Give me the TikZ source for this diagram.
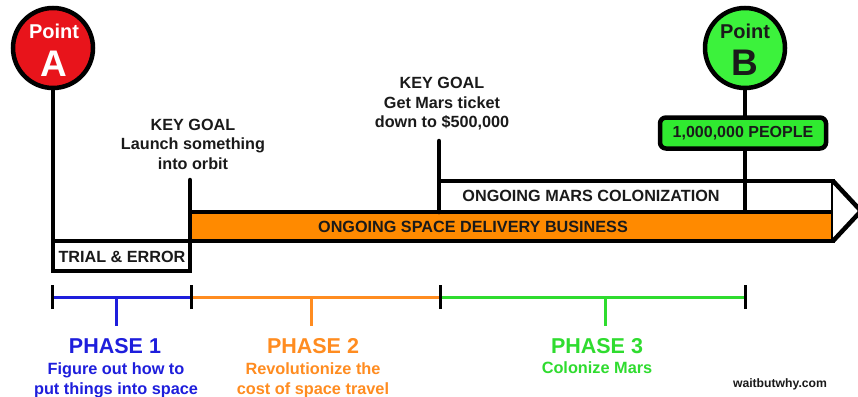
\documentclass[tikz,border=0pt]{standalone}
\usepackage{fontspec}
\setmainfont{Liberation Sans}

\definecolor{markA}{HTML}{E8141B}
\definecolor{markB}{HTML}{3CF23C}
\definecolor{peopleGreen}{HTML}{30EA30}
\definecolor{barOrange}{HTML}{FF8A00}
\definecolor{phaseBlue}{HTML}{1E1EDC}
\definecolor{phaseOrange}{HTML}{FF8C20}
\definecolor{phaseGreen}{HTML}{2FDC2F}
\definecolor{ink}{HTML}{1A1A1A}

\tikzset{
  bar/.style={draw=black, line width=4.5pt},
  stem/.style={draw=black, line width=4.5pt, line cap=round},
  marker/.style={circle, draw=black, line width=4.5pt, minimum size=80pt, inner sep=0pt, outer sep=0pt},
  boxnode/.style={bar, inner sep=0pt, outer sep=0pt, anchor=north west},
  bartext/.style={font=\bfseries\fontsize{16.2}{19}\selectfont, text=ink},
  goal/.style={align=center, font=\bfseries\fontsize{16.2}{19.5}\selectfont, text=ink},
  span/.style={line width=3pt},
  tick/.style={draw=black, line width=3pt},
  phase/.style={font=\bfseries\fontsize{21.5}{24}\selectfont},
  phasesub/.style={align=center, font=\bfseries\fontsize{16.3}{20}\selectfont},
}

\begin{document}
\begin{tikzpicture}[x=1pt, y=-1pt]
\useasboundingbox (0,0) rectangle (858,396);
\fill[white] (0,0) rectangle (858,396);

% ---- main bars ----
\node[boxnode, fill=barOrange, minimum width=643pt, minimum height=29pt] (space) at (190,212) {};
\node[bartext] (spacetext) at (473,227) {ONGOING SPACE DELIVERY BUSINESS};
\node[boxnode, fill=white, minimum width=394pt, minimum height=31pt] (mars) at (439,181) {};
\node[bartext] (marstext) at (591,196) {ONGOING MARS COLONIZATION};
\draw[bar, fill=white, line join=miter] (mars.north east) -- (861,211) -- (space.south east);

% ---- trial phase ----
\node[boxnode, fill=white, minimum width=137pt, minimum height=30pt] (trial) at (53,241) {};
\node[bartext] (trialtext) at (122,256.5) {TRIAL \& ERROR};

% ---- point A ----
\node[marker, fill=markA] (pa) at (53,48) {};
\node[text=white, font=\bfseries\fontsize{20}{22}\selectfont] (paword) at (54,31) {Point};
\node[text=white, font=\bfseries\fontsize{37}{40}\selectfont] (paletter) at (54,64) {A};
\draw[bar] (pa.south) -- (trial.north west);

% ---- key goals ----
\coordinate (kg1) at (190,180);
\draw[stem] (kg1) -- (trial.north east);
\node[goal] (kg1text) at (193,144) {KEY GOAL\\Launch something\\into orbit};

\coordinate (kg2) at (439,141);
\draw[stem] (kg2) -- (mars.south west);
\node[goal] (kg2text) at (442,104) {KEY GOAL\\Get Mars ticket\\down to \$500,000};

% ---- point B ----
\node[marker, fill=markB] (pb) at (745,48) {};
\node[text=ink, font=\bfseries\fontsize{20}{22}\selectfont] (pbword) at (745,31) {Point};
\node[text=ink, font=\bfseries\fontsize{37}{40}\selectfont] (pbletter) at (745,63) {B};
\node[bar, fill=peopleGreen, rounded corners=6pt, outer sep=0pt, minimum width=166pt, minimum height=31pt,
      font=\bfseries\fontsize{16}{18}\selectfont, text=ink] (people) at (743,133) {1,000,000 PEOPLE};
\draw[bar] (pb.south) -- (pb.south |- people.north);
\draw[bar] (pb.south |- people.south) -- (pb.south |- space.north);

% ---- phase timeline ----
\coordinate (t0) at (52,297);
\coordinate (t1) at (191,297);
\coordinate (t2) at (440,297);
\coordinate (t3) at (745,297);
\draw[span, phaseBlue] (t0) -- (t1);
\draw[span, phaseOrange] (t1) -- (t2);
\draw[span, phaseGreen] (t2) -- (t3);
\foreach \t in {t0,t1,t2,t3}
  \draw[tick] ([yshift=-12pt]\t) -- ([yshift=12pt]\t);

\coordinate (s1) at (116,297);
\coordinate (s2) at (311,297);
\coordinate (s3) at (605,297);
\draw[span, phaseBlue] (s1) -- ++(0,29);
\draw[span, phaseOrange] (s2) -- ++(0,29);
\draw[span, phaseGreen] (s3) -- ++(0,29);

\node[phase, text=phaseBlue] (ph1) at (115,346) {PHASE 1};
\node[phase, text=phaseOrange] (ph2) at (313,346) {PHASE 2};
\node[phase, text=phaseGreen] (ph3) at (597,346) {PHASE 3};

\node[phasesub, text=phaseBlue] (ph1sub) at (116,380) {Figure out how to\\put things into space};
\node[phasesub, text=phaseOrange] (ph2sub) at (313,380) {Revolutionize the\\cost of space travel};
\node[phasesub, text=phaseGreen] (ph3sub) at (597,368) {Colonize Mars};

\node[font=\bfseries\fontsize{12.2}{14}\selectfont, text=ink] (site) at (780,384) {waitbutwhy.com};
\end{tikzpicture}
\end{document}
